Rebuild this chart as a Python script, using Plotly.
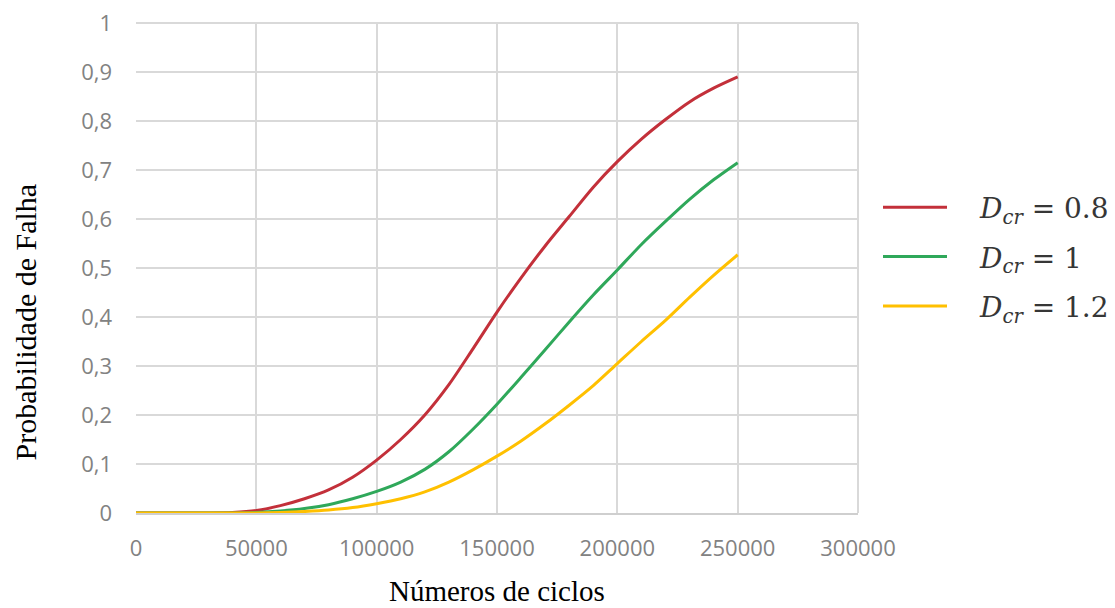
import plotly.graph_objects as go

cycles = [0, 10000, 20000, 30000, 40000, 50000, 60000, 70000, 80000, 90000,
          100000, 110000, 120000, 130000, 140000, 150000, 160000, 170000,
          180000, 190000, 200000, 210000, 220000, 230000, 240000, 250000]

p_dcr_08 = [0, 0, 0, 0, 0.001, 0.005, 0.015, 0.029, 0.047, 0.073,
            0.108, 0.15, 0.2, 0.262, 0.335, 0.41, 0.48, 0.545,
            0.605, 0.665, 0.717, 0.763, 0.803, 0.839, 0.867, 0.89]

p_dcr_10 = [0, 0, 0, 0, 0, 0.001, 0.004, 0.009, 0.017, 0.029,
            0.044, 0.063, 0.089, 0.125, 0.171, 0.222, 0.277, 0.333,
            0.39, 0.445, 0.496, 0.548, 0.595, 0.64, 0.68, 0.715]

p_dcr_12 = [0, 0, 0, 0, 0, 0, 0.001, 0.003, 0.006, 0.011,
            0.019, 0.029, 0.043, 0.063, 0.088, 0.116, 0.147, 0.182,
            0.22, 0.26, 0.305, 0.35, 0.393, 0.44, 0.485, 0.527]

series_names = ["\u2003<i>D</i><sub><i>cr</i></sub> = 0.8",
                "\u2003<i>D</i><sub><i>cr</i></sub> = 1",
                "\u2003<i>D</i><sub><i>cr</i></sub> = 1.2"]
series_colors = ["#c3303a", "#2fa85a", "#ffc000"]

x_tick_vals = [0, 50000, 100000, 150000, 200000, 250000, 300000]
x_tick_text = ["0", "50000", "100000", "150000", "200000", "250000", "300000"]
y_tick_vals = [0, 0.1, 0.2, 0.3, 0.4, 0.5, 0.6, 0.7, 0.8, 0.9, 1]
y_tick_text = ["0", "0,1", "0,2", "0,3", "0,4", "0,5", "0,6", "0,7", "0,8", "0,9", "1"]

fig = go.Figure()
for name, ys, col in zip(series_names, [p_dcr_08, p_dcr_10, p_dcr_12], series_colors):
    fig.add_trace(go.Scatter(x=cycles, y=ys, mode="lines", name=name,
                             legendgroup=name,
                             line=dict(color=col, width=3, shape="spline", smoothing=0.8)))

grid = "#d9d9d9"
tick_font = dict(family="Open Sans, Noto Sans, sans-serif", size=22, color="#828282")
serif = "Liberation Serif, Times New Roman, serif"

fig.update_layout(
    width=1115, height=608,
    margin=dict(l=136, r=257, t=23, b=95, autoexpand=False),
    paper_bgcolor="white", plot_bgcolor="white",
    showlegend=True,
    legend=dict(x=(878 - 136) / 722, xanchor="left", y=0.5224, yanchor="middle",
                font=dict(family="DejaVu Serif, serif", size=28, color="#363636"),
                itemwidth=64, tracegroupgap=10, traceorder="grouped",
                bgcolor="rgba(0,0,0,0)"),
    xaxis=dict(range=[0, 300000], tickvals=x_tick_vals, ticktext=x_tick_text,
               showgrid=True, gridcolor=grid, gridwidth=2,
               showline=True, linecolor="#cfcfcf", linewidth=2,
               zeroline=False, ticks="", tickfont=tick_font, ticklabelstandoff=15),
    yaxis=dict(range=[0, 1], tickvals=y_tick_vals, ticktext=y_tick_text,
               showgrid=True, gridcolor=grid, gridwidth=2,
               showline=False, zeroline=False, ticks="", tickfont=tick_font,
               ticklabelstandoff=23),
    annotations=[
        dict(text="Números de ciclos", xref="paper", yref="paper",
             x=0.5, y=-0.159, xanchor="center", yanchor="middle", showarrow=False,
             font=dict(family=serif, size=29, color="#000000")),
        dict(text="Probabilidade de Falha", xref="paper", yref="paper",
             x=-0.153, y=0.39, xanchor="center", yanchor="middle", showarrow=False,
             textangle=-90,
             font=dict(family=serif, size=30, color="#000000")),
    ],
)

fig.add_shape(type="line", xref="paper", yref="paper", x0=0, x1=1, y0=1, y1=1,
              line=dict(color=grid, width=2), layer="below")
fig.add_shape(type="line", xref="paper", yref="paper", x0=1, x1=1, y0=0, y1=1,
              line=dict(color=grid, width=2), layer="below")

fig.write_html("out.html",
               config={"displayModeBar": False},
               post_script="document.body.style.margin='0';document.body.style.padding='0';")
